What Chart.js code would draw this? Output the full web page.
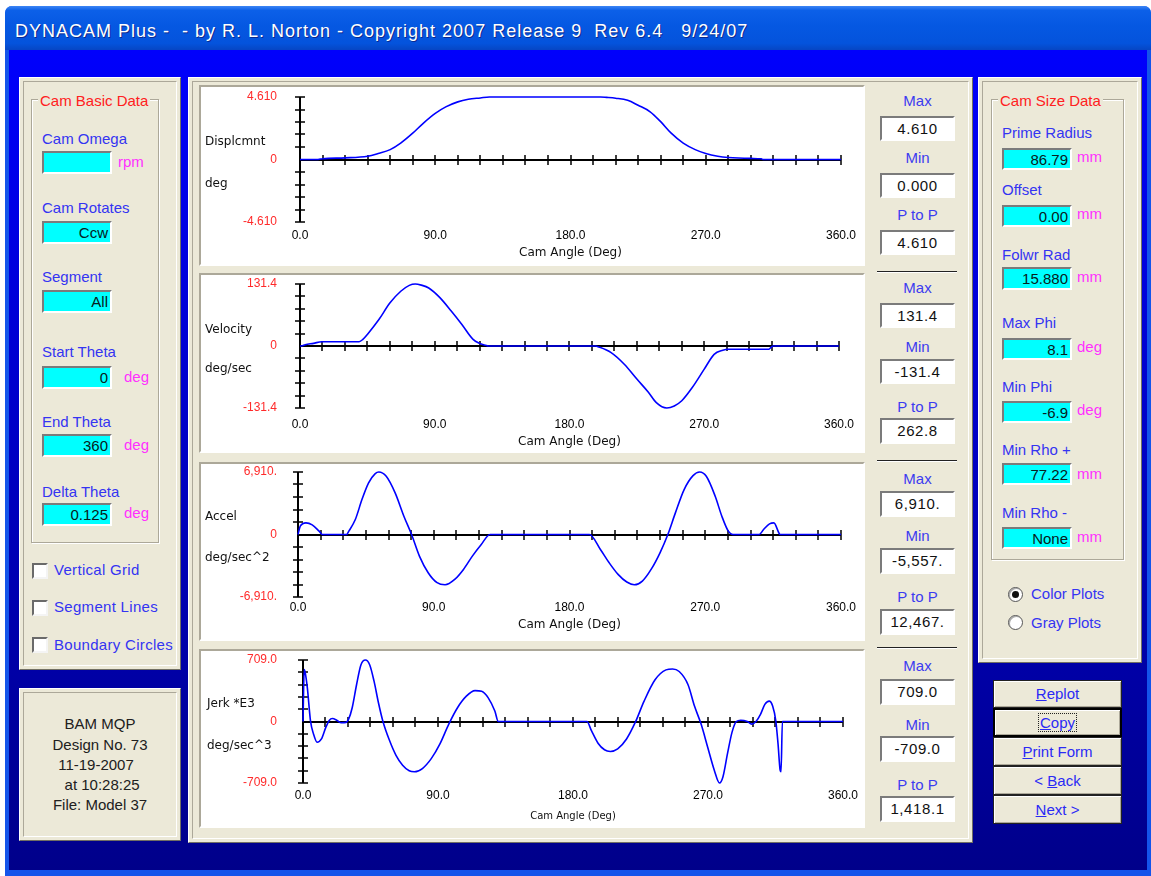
<!DOCTYPE html>
<html>
<head>
<meta charset="utf-8">
<title>DYNACAM Plus</title>
<script src="https://cdn.jsdelivr.net/npm/chart.js@4.4.0/dist/chart.umd.min.js"></script>
<style>
  html, body { margin: 0; padding: 0; }
  body { width: 1151px; height: 876px; position: relative; overflow: hidden; background: #fff;
         font-family: "Liberation Sans", Arial, sans-serif; }
  body > div, body > canvas { position: absolute; }
  .t { white-space: pre; font-size: 15px; line-height: 16px; }
  .lbl { color: #3434f2; }
  .unit { color: #ff30ff; }
  .legend { color: #ff2020; background: #ece9d8; padding: 0 2px; }
  .axname { font-family: "DejaVu Sans", sans-serif; font-size: 12px; line-height: 14px; color: #111; }
  .panel { background: #ece9d8; box-sizing: border-box; border: 1px solid; border-color: #fff #716f64 #716f64 #fff; }
  .panel::before { content: ""; position: absolute; left: 3px; top: 3px; right: 3px; bottom: 3px;
                   border: 1px solid; border-color: #aca899 #fff #fff #aca899; }
  .group { box-sizing: border-box; border: 1px solid #aca899; box-shadow: 1px 1px 0 #fff, inset 1px 1px 0 #fff; }
  .cyan { background: #00ffff; box-sizing: border-box; border: 2px solid; border-color: #7b7b7b #fff #fff #7b7b7b;
          text-align: right; font-size: 15px; line-height: 19px; padding-right: 2px; color: #062020; }
  .wbox { background: #fff; box-sizing: border-box; border: 2px solid; border-color: #7b7b7b #fff #fff #7b7b7b;
          text-align: center; font-size: 15px; line-height: 21px; letter-spacing: 0.6px; color: #111; }
  .cap { width: 75px; text-align: center; color: #3c3cf0; }
  .sep { width: 80px; height: 0; border-top: 1px solid #222; border-bottom: 1px solid #fff; }
  .plot { background: #fff; box-sizing: border-box; border: 2px solid; border-color: #aca899 #fff #fff #aca899; }
  .chk { width: 16px; height: 16px; box-sizing: border-box; background: #fff; border: 2px solid;
         border-color: #6a6a6a #f4f4f4 #f4f4f4 #6a6a6a; }
  .radio { width: 15px; height: 15px; box-sizing: border-box; border-radius: 50%; background: #fff;
           border: 1px solid #555; box-shadow: inset 1px 1px 0 #aaa; }
  .btn { width: 129px; box-sizing: border-box; background: #ece9d8; border: 1px solid #222;
         box-shadow: inset 1px 1px 0 #fff, inset -1px -1px 0 #aca899; text-align: center;
         font-size: 15px; color: #2a2af5; }
  .btn u { text-decoration: underline; }
  .info { width: 162px; text-align: center; color: #202020; }
</style>
</head>
<body>

<!-- window frame, title bar and client area -->
<div style="left:5px;top:6px;width:1146px;height:870px;background:#1454ea;border-radius:7px 7px 0 0"></div>
<div style="left:5px;top:6px;width:1146px;height:44px;border-radius:7px 7px 0 0;
            background:linear-gradient(#3d86f5 0%, #0c60e8 10%, #0558e2 45%, #0453dc 85%, #0646c4 100%)"></div>
<div class="t" style="left:15px;top:21px;font-size:18px;line-height:20px;letter-spacing:1px;color:#fff;text-shadow:1px 1px 0 #0b2a90">DYNACAM Plus -  - by R. L. Norton - Copyright 2007 Release 9  Rev 6.4   9/24/07</div>
<div style="left:9px;top:50px;width:1138px;height:820px;background:linear-gradient(#0000fc, #00008a)"></div>

<!-- left panel -->
<div class="panel" style="left:19px;top:77px;width:162px;height:593px"></div>
<div class="group" style="left:31px;top:99px;width:128px;height:444px"></div>
<div class="t legend" style="left:38px;top:93px">Cam Basic Data</div>

<div class="t lbl" style="left:42px;top:131px">Cam Omega</div>
<div class="cyan" style="left:42px;top:151px;width:70px;height:23px"></div>
<div class="t unit" style="left:118px;top:154px">rpm</div>

<div class="t lbl" style="left:42px;top:200px">Cam Rotates</div>
<div class="cyan" style="left:42px;top:221px;width:70px;height:23px">Ccw</div>

<div class="t lbl" style="left:42px;top:269px">Segment</div>
<div class="cyan" style="left:42px;top:290px;width:70px;height:23px">All</div>

<div class="t lbl" style="left:42px;top:344px">Start Theta</div>
<div class="cyan" style="left:42px;top:366px;width:70px;height:23px">0</div>
<div class="t unit" style="left:124px;top:369px">deg</div>

<div class="t lbl" style="left:42px;top:414px">End Theta</div>
<div class="cyan" style="left:42px;top:434px;width:70px;height:23px">360</div>
<div class="t unit" style="left:124px;top:437px">deg</div>

<div class="t lbl" style="left:42px;top:484px">Delta Theta</div>
<div class="cyan" style="left:42px;top:503px;width:70px;height:23px">0.125</div>
<div class="t unit" style="left:124px;top:505px">deg</div>

<div class="chk" style="left:32px;top:563px"></div>
<div class="t lbl" style="left:54px;top:562px;letter-spacing:0.3px">Vertical Grid</div>
<div class="chk" style="left:32px;top:600px"></div>
<div class="t lbl" style="left:54px;top:599px;letter-spacing:0.3px">Segment Lines</div>
<div class="chk" style="left:32px;top:637px"></div>
<div class="t lbl" style="left:54px;top:637px;letter-spacing:0.3px">Boundary Circles</div>

<!-- info panel -->
<div class="panel" style="left:19px;top:688px;width:162px;height:153px"></div>
<div class="t info" style="left:19px;top:716px">BAM MQP</div>
<div class="t info" style="left:19px;top:737px">Design No. 73</div>
<div class="t info" style="left:15px;top:757px">11-19-2007</div>
<div class="t info" style="left:19px;top:777px"> at 10:28:25</div>
<div class="t info" style="left:19px;top:797px">File: Model 37</div>

<!-- centre panel with plots -->
<div class="panel" style="left:188px;top:77px;width:785px;height:766px"></div>
<div class="plot" style="left:199px;top:85px;width:666px;height:181px"></div>
<div class="plot" style="left:199px;top:273px;width:666px;height:180px"></div>
<div class="plot" style="left:199px;top:462px;width:666px;height:179px"></div>
<div class="plot" style="left:199px;top:649px;width:666px;height:179px"></div>

<canvas id="dispChart" width="662" height="177" style="left:201px;top:87px"></canvas>
<canvas id="velChart" width="662" height="176" style="left:201px;top:275px"></canvas>
<canvas id="accChart" width="662" height="175" style="left:201px;top:464px"></canvas>
<canvas id="jerkChart" width="662" height="175" style="left:201px;top:651px"></canvas>

<div class="t axname" style="left:205px;top:134px">Displcmnt</div>
<div class="t axname" style="left:205px;top:176px">deg</div>
<div class="t axname" style="left:205px;top:322px">Velocity</div>
<div class="t axname" style="left:205px;top:361px">deg/sec</div>
<div class="t axname" style="left:205px;top:509px">Accel</div>
<div class="t axname" style="left:205px;top:550px">deg/sec^2</div>
<div class="t axname" style="left:207px;top:696px">Jerk *E3</div>
<div class="t axname" style="left:207px;top:738px">deg/sec^3</div>

<div class="t cap" style="left:880px;top:93px">Max</div>
<div class="wbox" style="left:880px;top:116px;width:75px;height:25px">4.610</div>
<div class="t cap" style="left:880px;top:150px">Min</div>
<div class="wbox" style="left:880px;top:173px;width:75px;height:25px">0.000</div>
<div class="t cap" style="left:880px;top:207px">P to P</div>
<div class="wbox" style="left:880px;top:230px;width:75px;height:25px">4.610</div>
<div class="sep" style="left:877px;top:271px"></div>

<div class="t cap" style="left:880px;top:280px">Max</div>
<div class="wbox" style="left:880px;top:303px;width:75px;height:25px">131.4</div>
<div class="t cap" style="left:880px;top:339px">Min</div>
<div class="wbox" style="left:880px;top:359px;width:75px;height:25px">-131.4</div>
<div class="t cap" style="left:880px;top:399px">P to P</div>
<div class="wbox" style="left:880px;top:418px;width:75px;height:26px">262.8</div>
<div class="sep" style="left:877px;top:460px"></div>

<div class="t cap" style="left:880px;top:471px">Max</div>
<div class="wbox" style="left:880px;top:491px;width:75px;height:26px">6,910.</div>
<div class="t cap" style="left:880px;top:528px">Min</div>
<div class="wbox" style="left:880px;top:548px;width:75px;height:26px">-5,557.</div>
<div class="t cap" style="left:880px;top:589px">P to P</div>
<div class="wbox" style="left:880px;top:609px;width:75px;height:26px">12,467.</div>
<div class="sep" style="left:877px;top:647px"></div>

<div class="t cap" style="left:880px;top:658px">Max</div>
<div class="wbox" style="left:880px;top:679px;width:75px;height:26px">709.0</div>
<div class="t cap" style="left:880px;top:717px">Min</div>
<div class="wbox" style="left:880px;top:736px;width:75px;height:26px">-709.0</div>
<div class="t cap" style="left:880px;top:777px">P to P</div>
<div class="wbox" style="left:880px;top:796px;width:75px;height:26px">1,418.1</div>

<!-- right panel -->
<div class="panel" style="left:978px;top:77px;width:164px;height:586px"></div>
<div class="group" style="left:991px;top:99px;width:133px;height:461px"></div>
<div class="t legend" style="left:998px;top:93px">Cam Size Data</div>

<div class="t lbl" style="left:1002px;top:125px">Prime Radius</div>
<div class="cyan" style="left:1002px;top:148px;width:70px;height:22px">86.79</div>
<div class="t unit" style="left:1077px;top:149px">mm</div>

<div class="t lbl" style="left:1002px;top:182px">Offset</div>
<div class="cyan" style="left:1002px;top:205px;width:70px;height:22px">0.00</div>
<div class="t unit" style="left:1077px;top:206px">mm</div>

<div class="t lbl" style="left:1002px;top:247px">Folwr Rad</div>
<div class="cyan" style="left:1002px;top:267px;width:70px;height:23px">15.880</div>
<div class="t unit" style="left:1077px;top:269px">mm</div>

<div class="t lbl" style="left:1002px;top:315px">Max Phi</div>
<div class="cyan" style="left:1002px;top:338px;width:70px;height:22px">8.1</div>
<div class="t unit" style="left:1077px;top:339px">deg</div>

<div class="t lbl" style="left:1002px;top:379px">Min Phi</div>
<div class="cyan" style="left:1002px;top:401px;width:70px;height:22px">-6.9</div>
<div class="t unit" style="left:1077px;top:402px">deg</div>

<div class="t lbl" style="left:1002px;top:442px">Min Rho +</div>
<div class="cyan" style="left:1002px;top:463px;width:70px;height:22px">77.22</div>
<div class="t unit" style="left:1077px;top:466px">mm</div>

<div class="t lbl" style="left:1002px;top:505px">Min Rho -</div>
<div class="cyan" style="left:1002px;top:527px;width:70px;height:22px">None</div>
<div class="t unit" style="left:1077px;top:529px">mm</div>

<div class="radio" style="left:1008px;top:587px"><div style="position:absolute;left:3px;top:3px;width:7px;height:7px;border-radius:50%;background:#111"></div></div>
<div class="t lbl" style="left:1031px;top:586px">Color Plots</div>
<div class="radio" style="left:1008px;top:615px"></div>
<div class="t lbl" style="left:1031px;top:615px">Gray Plots</div>

<div class="btn" style="left:993px;top:680px;height:28px;line-height:26px"><u>R</u>eplot</div>
<div class="btn" style="left:993px;top:708px;height:29px;line-height:25px;border:2px solid #000"><span style="outline:1px dotted #222;padding:0 1px"><u>C</u>opy</span></div>
<div class="btn" style="left:993px;top:737px;height:29px;line-height:27px"><u>P</u>rint Form</div>
<div class="btn" style="left:993px;top:766px;height:29px;line-height:27px">&lt; <u>B</u>ack</div>
<div class="btn" style="left:993px;top:795px;height:29px;line-height:27px"><u>N</u>ext &gt;</div>

<script>
// x axis, cam angle in degrees
const angleTicks = [0, 90, 180, 270, 360];
const angleLabels = ["0.0", "90.0", "180.0", "270.0", "360.0"];

// displacement, deg
const dispAngle = [0, 12, 15, 30, 45, 52, 60, 67, 75, 82, 90, 97, 105, 112, 120, 126, 200, 204, 210, 218, 225, 233, 240, 247, 255, 263, 270, 278, 285, 300, 307, 308, 360];
const dispValue = [0, 0, 0.06, 0.12, 0.24, 0.44, 0.73, 1.21, 1.94, 2.67, 3.40, 3.88, 4.25, 4.44, 4.54, 4.61, 4.61, 4.58, 4.52, 4.37, 4.00, 3.52, 2.79, 1.94, 1.21, 0.73, 0.44, 0.24, 0.15, 0.08, 0.05, 0, 0];
const dispTicks = [-4.61, 0, 4.61];
const dispTickLabels = ["-4.610", "0", "4.610"];

// velocity, deg/sec
const velAngle = [0, 1, 3.5, 9, 14.6, 39.5, 42, 45, 52.7, 60, 67.3, 73, 77, 81, 86, 93.6, 101, 108, 115.6, 120, 124, 126, 197.5, 199, 207.8, 216.6, 225, 232.7, 238, 245, 250, 255, 262, 270, 276.6, 282.4, 286, 313, 314.6, 316, 360];
const velValue = [0, 0, 2.8, 5.6, 9.1, 9.1, 14, 24.6, 56, 91, 116, 128.5, 131.4, 129, 123, 102, 74, 46, 14, 5.6, 1.4, 0, 0, -1.4, -14, -38.6, -70, -98, -120, -131.4, -127, -116, -88, -49, -17.6, -9.1, -7, -7, -2.8, 0, 0];
const velTicks = [-131.4, 0, 131.4];
const velTickLabels = ["-131.4", "0", "131.4"];

// acceleration, deg/sec^2
const accAngle = [0, 1.5, 5.3, 9.4, 14, 16.1, 32.2, 33.7, 38, 42.4, 46.8, 51.2, 53.6, 58.5, 64.4, 70.2, 75.3, 80.5, 86.3, 92.2, 97.5, 103.9, 109.7, 115.6, 121.5, 127.3, 193.2, 200.5, 206.3, 212.2, 218, 223, 228.3, 234.1, 240, 245.2, 250.2, 256, 261.9, 266.3, 270.7, 276.6, 281, 285.3, 288.3, 305.8, 308.7, 312.6, 315.5, 319, 319.6, 360];
const accValue = [0, 919, 1287, 1066, 368, 0, 0, 368, 1654, 3860, 5698, 6727, 6910, 6433, 4595, 2022, 0, -2389, -4227, -5330, -5557, -4963, -3860, -2389, -1103, 0, 0, -1654, -3125, -4411, -5257, -5557, -5146, -3860, -2022, 0, 2389, 4963, 6506, 6910, 6433, 4227, 2022, 368, 0, 0, 551, 1176, 1287, 110, 0, 0];
const accTicks = [-6910, 0, 6910];
const accTickLabels = ["-6,910.", "0", "6,910."];

// jerk, deg/sec^3 * 1000
const jerkAngle = [0, 0.8, 1.5, 2.9, 5, 7, 9.4, 12.3, 15.2, 17.6, 19.6, 22.5, 25.5, 28.7, 30.4, 32.8, 35.7, 38.6, 41.6, 44.5, 47.4, 50.3, 53.3, 57.7, 62, 66.4, 70.8, 74.3, 79.6, 85.5, 91.3, 97.2, 103, 108.9, 114.7, 119.1, 123.5, 127.9, 130.2, 189.3, 192.3, 196.7, 201, 204.9, 209.8, 215.7, 221.5, 227.4, 234.7, 242, 246.4, 250.8, 256.7, 261, 265.4, 269.8, 274.2, 277.7, 280, 283, 286, 288.9, 291.8, 296.2, 299.1, 302, 305, 307.9, 310.8, 313.1, 315.2, 316.7, 318.1, 318.7, 319.6, 360];
const jerkValue = [0, 600, 560, 387, 8, -144, -239, -201, -68, 15, 34, 15, -15, -10, 27, 159, 424, 652, 709, 652, 462, 216, 0, -220, -390, -504, -568, -580, -542, -428, -258, -30, 159, 292, 356, 349, 273, 121, 0, 0, -106, -250, -326, -345, -315, -201, -11, 235, 481, 595, 606, 576, 424, 178, -30, -296, -561, -709, -637, -371, -125, 0, 15, 0, -30, 0, 83, 197, 235, 178, 8, -258, -561, -580, 0, 0];
const jerkTicks = [-709, 0, 709];
const jerkTickLabels = ["-709.0", "0", "709.0"];

const wordFont = '"DejaVu Sans", sans-serif';
Chart.defaults.font.family = '"Liberation Sans", Arial, sans-serif';
Chart.defaults.font.size = 12;

// black cross axes with 15 deg ticks and ten y divisions, drawn under the curve
const crossAxes = {
  id: "crossAxes",
  beforeDatasetsDraw(chart) {
    const { ctx, scales: { x, y } } = chart;
    const x0 = x.getPixelForValue(0);
    const y0 = Math.round(y.getPixelForValue(0));
    const top = y.getPixelForValue(y.max);
    const bottom = y.getPixelForValue(y.min);

    ctx.save();
    ctx.strokeStyle = "#000";
    ctx.lineWidth = 2;
    ctx.beginPath();
    ctx.moveTo(x0, top);
    ctx.lineTo(x0, bottom);
    ctx.moveTo(x0, y0);
    ctx.lineTo(x.getPixelForValue(360), y0);
    ctx.stroke();

    ctx.lineWidth = 1.5;
    ctx.beginPath();
    for (let a = 15; a <= 360; a += 15) {
      const px = Math.round(x.getPixelForValue(a));
      ctx.moveTo(px, y0 - 5);
      ctx.lineTo(px, y0 + 5);
    }
    for (let i = -5; i <= 5; i++) {
      if (i === 0) {
        continue;
      }
      const py = Math.round(y.getPixelForValue(y.max * i / 5));
      ctx.moveTo(x0 - 5, py);
      ctx.lineTo(x0 + 5, py);
    }
    ctx.stroke();
    ctx.restore();
  }
};

const plots = [
  { id: "dispChart", angles: dispAngle, values: dispValue, ticks: dispTicks, labels: dispTickLabels,
    left: 99, right: 22, top: 10, xHeight: 42, labelPad: 6, titlePad: 4, yPad: 23, titleSize: 12 },
  { id: "velChart", angles: velAngle, values: velValue, ticks: velTicks, labels: velTickLabels,
    left: 99, right: 22, top: 9, xHeight: 43, labelPad: 9, titlePad: 2, yPad: 23, titleSize: 12 },
  { id: "accChart", angles: accAngle, values: accValue, ticks: accTicks, labels: accTickLabels,
    left: 97, right: 22, top: 8, xHeight: 42, labelPad: 3, titlePad: 7, yPad: 21, titleSize: 12 },
  { id: "jerkChart", angles: jerkAngle, values: jerkValue, ticks: jerkTicks, labels: jerkTickLabels,
    left: 102, right: 18, top: 9, xHeight: 43, labelPad: 5, titlePad: 4, yPad: 26, titleSize: 10 }
];

plots.forEach((p) => {
  new Chart(document.getElementById(p.id), {
    type: "line",
    data: {
      datasets: [{
        data: p.angles.map((a, i) => ({ x: a, y: p.values[i] })),
        borderColor: "#0000ff",
        borderWidth: 1.6,
        pointRadius: 0,
        cubicInterpolationMode: "monotone",
        clip: 4
      }]
    },
    options: {
      responsive: false,
      animation: false,
      events: [],
      layout: { padding: { top: p.top, right: p.right, left: 0, bottom: 0 } },
      plugins: { legend: { display: false }, tooltip: { enabled: false } },
      scales: {
        x: {
          type: "linear",
          min: 0,
          max: 360,
          afterBuildTicks: (s) => { s.ticks = angleTicks.map((v) => ({ value: v })); },
          afterFit: (s) => { s.height = p.xHeight; },
          ticks: { color: "#000", padding: p.labelPad, maxRotation: 0, autoSkip: false,
                   callback: (v, i) => angleLabels[i] },
          grid: { display: false, drawTicks: false },
          border: { display: false },
          title: { display: true, text: "Cam Angle (Deg)", color: "#111",
                   font: { family: wordFont, size: p.titleSize },
                   padding: { top: 0, bottom: p.titlePad } }
        },
        y: {
          min: p.ticks[0],
          max: p.ticks[2],
          afterBuildTicks: (s) => { s.ticks = p.ticks.map((v) => ({ value: v })); },
          afterFit: (s) => {
            // the label padding is horizontal here; keep it from pushing the plot down
            s.width = p.left;
            s.paddingTop = 7;
            s.paddingBottom = 7;
          },
          ticks: { color: "#ff2a2a", padding: p.yPad, autoSkip: false,
                   callback: (v, i) => p.labels[i] },
          grid: { display: false, drawTicks: false },
          border: { display: false }
        }
      }
    },
    plugins: [crossAxes]
  });
});
</script>
</body>
</html>
